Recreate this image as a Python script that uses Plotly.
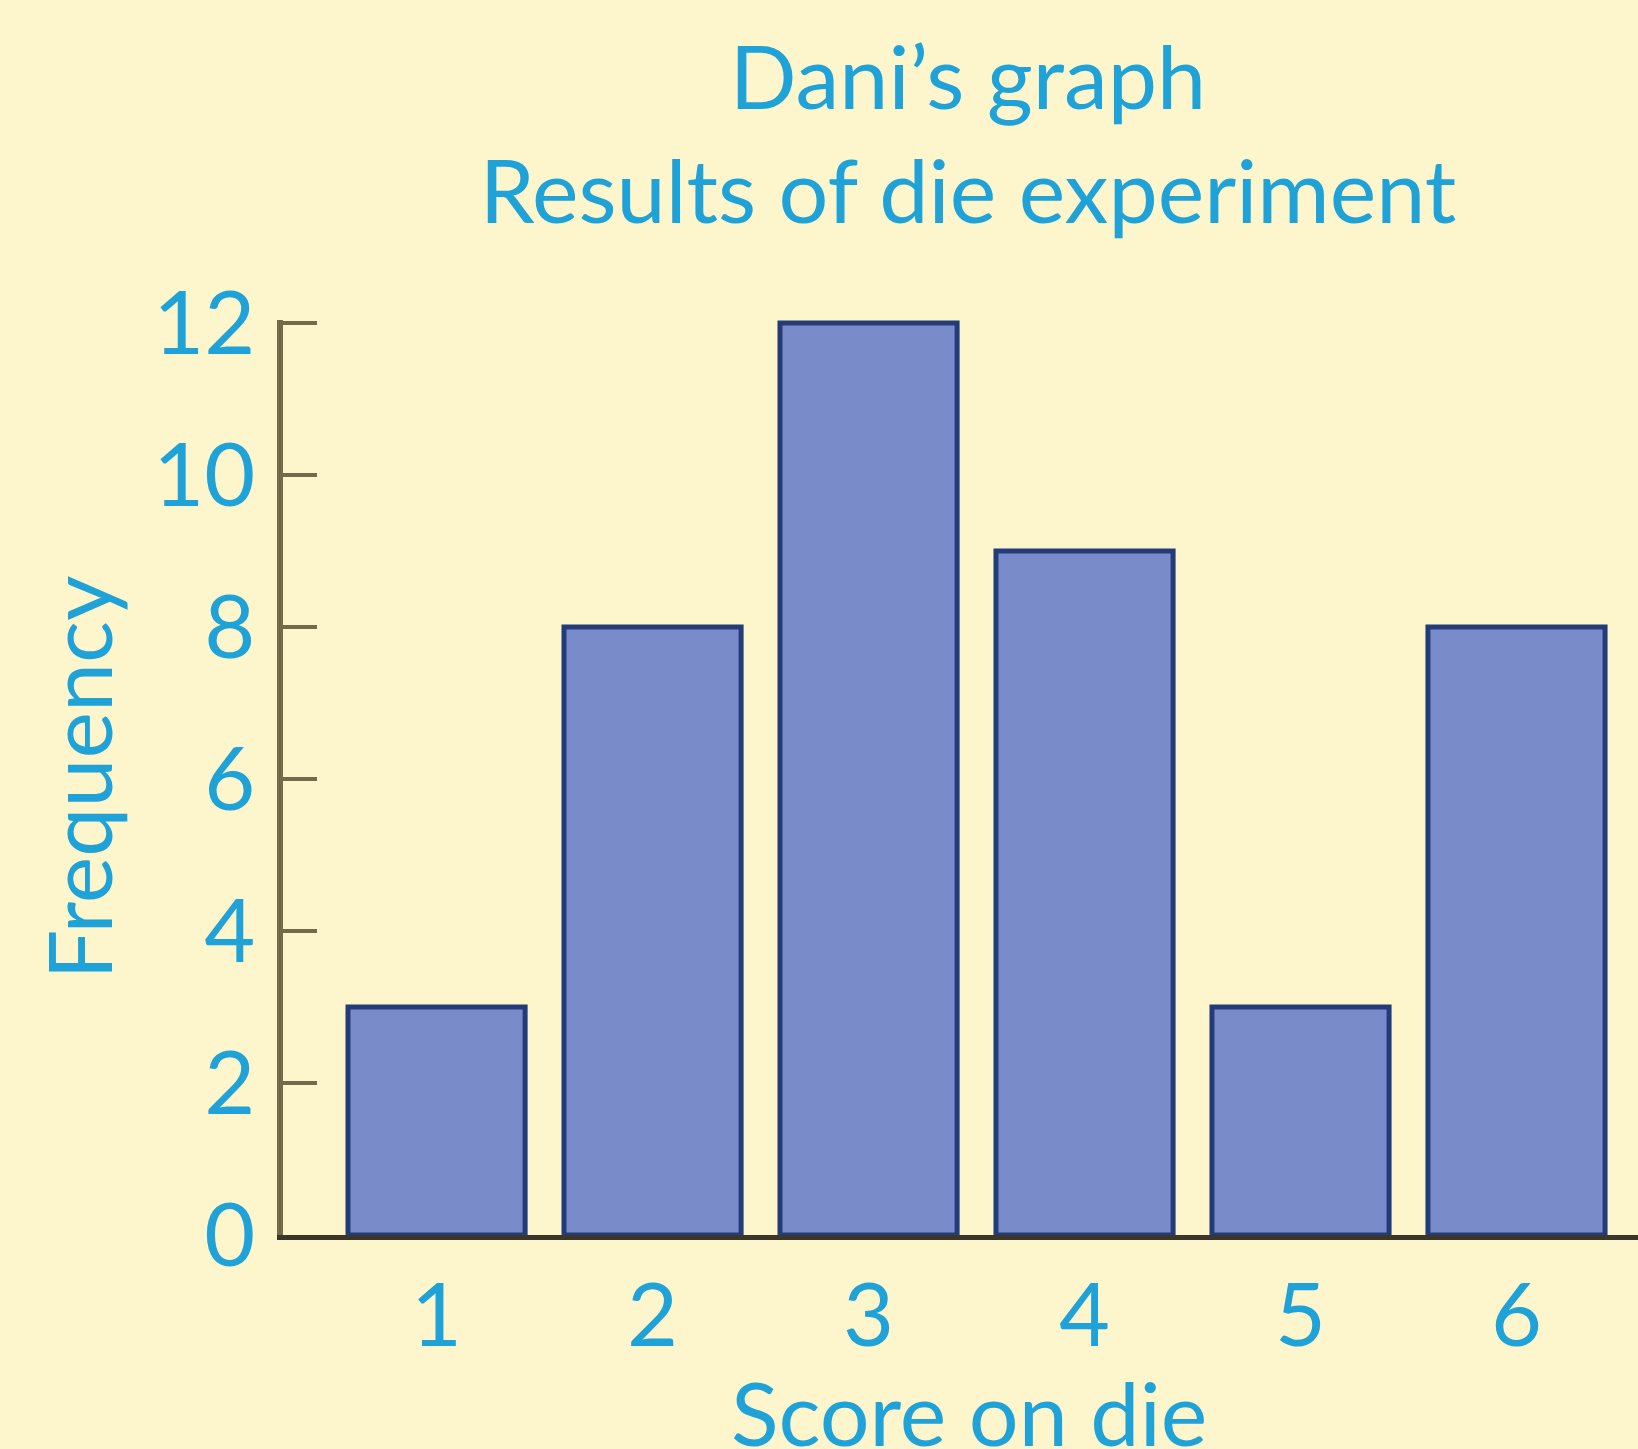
import plotly.graph_objects as go

# Die experiment results
scores = [1, 2, 3, 4, 5, 6]
frequencies = [3, 8, 12, 9, 3, 8]
y_ticks = [0, 2, 4, 6, 8, 10, 12]

TEXT_BLUE = "#1fa2d8"
BG = "#fdf6cc"
FONT = "Lato"

fig = go.Figure(
    go.Bar(
        x=scores,
        y=frequencies,
        width=0.82,
        marker=dict(color="#7a8bc9", line=dict(color="#243b7a", width=5)),
    )
)

W, H = 1638, 1449
L, R, T, B = 283, 0, 320, 214

fig.update_layout(
    width=W,
    height=H,
    margin=dict(l=L, r=R, t=T, b=B),
    paper_bgcolor=BG,
    plot_bgcolor=BG,
    showlegend=False,
    font=dict(family=FONT, color=TEXT_BLUE, size=88),
    title=dict(
        text="Dani’s graph<br>Results of die experiment",
        x=968 / W,
        xanchor="center",
        xref="container",
        y=1 - 109 / H,
        yanchor="top",
        yref="container",
        font=dict(family=FONT, size=88, color=TEXT_BLUE),
    ),
)

fig.update_xaxes(
    range=[0.289, 6.5625],
    tickvals=scores,
    ticktext=[str(s) for s in scores],
    ticks="",
    showgrid=False,
    zeroline=False,
    showline=True,
    linecolor="#3a3729",
    linewidth=5,
    ticklabelstandoff=0,
    tickfont=dict(family=FONT, size=88, color=TEXT_BLUE),
)

fig.update_yaxes(
    range=[0, 12.04],
    tickvals=y_ticks,
    ticks="inside",
    ticklen=34,
    tickwidth=4,
    tickcolor="#736a4a",
    showgrid=False,
    zeroline=False,
    showline=True,
    linecolor="#736a4a",
    linewidth=6,
    ticklabelstandoff=4,
    tickfont=dict(family=FONT, size=88, color=TEXT_BLUE),
)

plot_w = W - L - R
plot_h = H - T - B

fig.add_annotation(
    text="Frequency",
    textangle=-90,
    xref="paper",
    yref="paper",
    x=(77 - L) / plot_w,
    y=0.50,
    xanchor="center",
    yanchor="middle",
    showarrow=False,
    font=dict(family=FONT, size=88, color=TEXT_BLUE),
)

fig.add_annotation(
    text="Score on die",
    xref="paper",
    yref="paper",
    x=(969 - L) / plot_w,
    y=-(1357 - 1235) / plot_h,
    xanchor="center",
    yanchor="top",
    showarrow=False,
    font=dict(family=FONT, size=88, color=TEXT_BLUE),
)

fig.write_html("out.html")
